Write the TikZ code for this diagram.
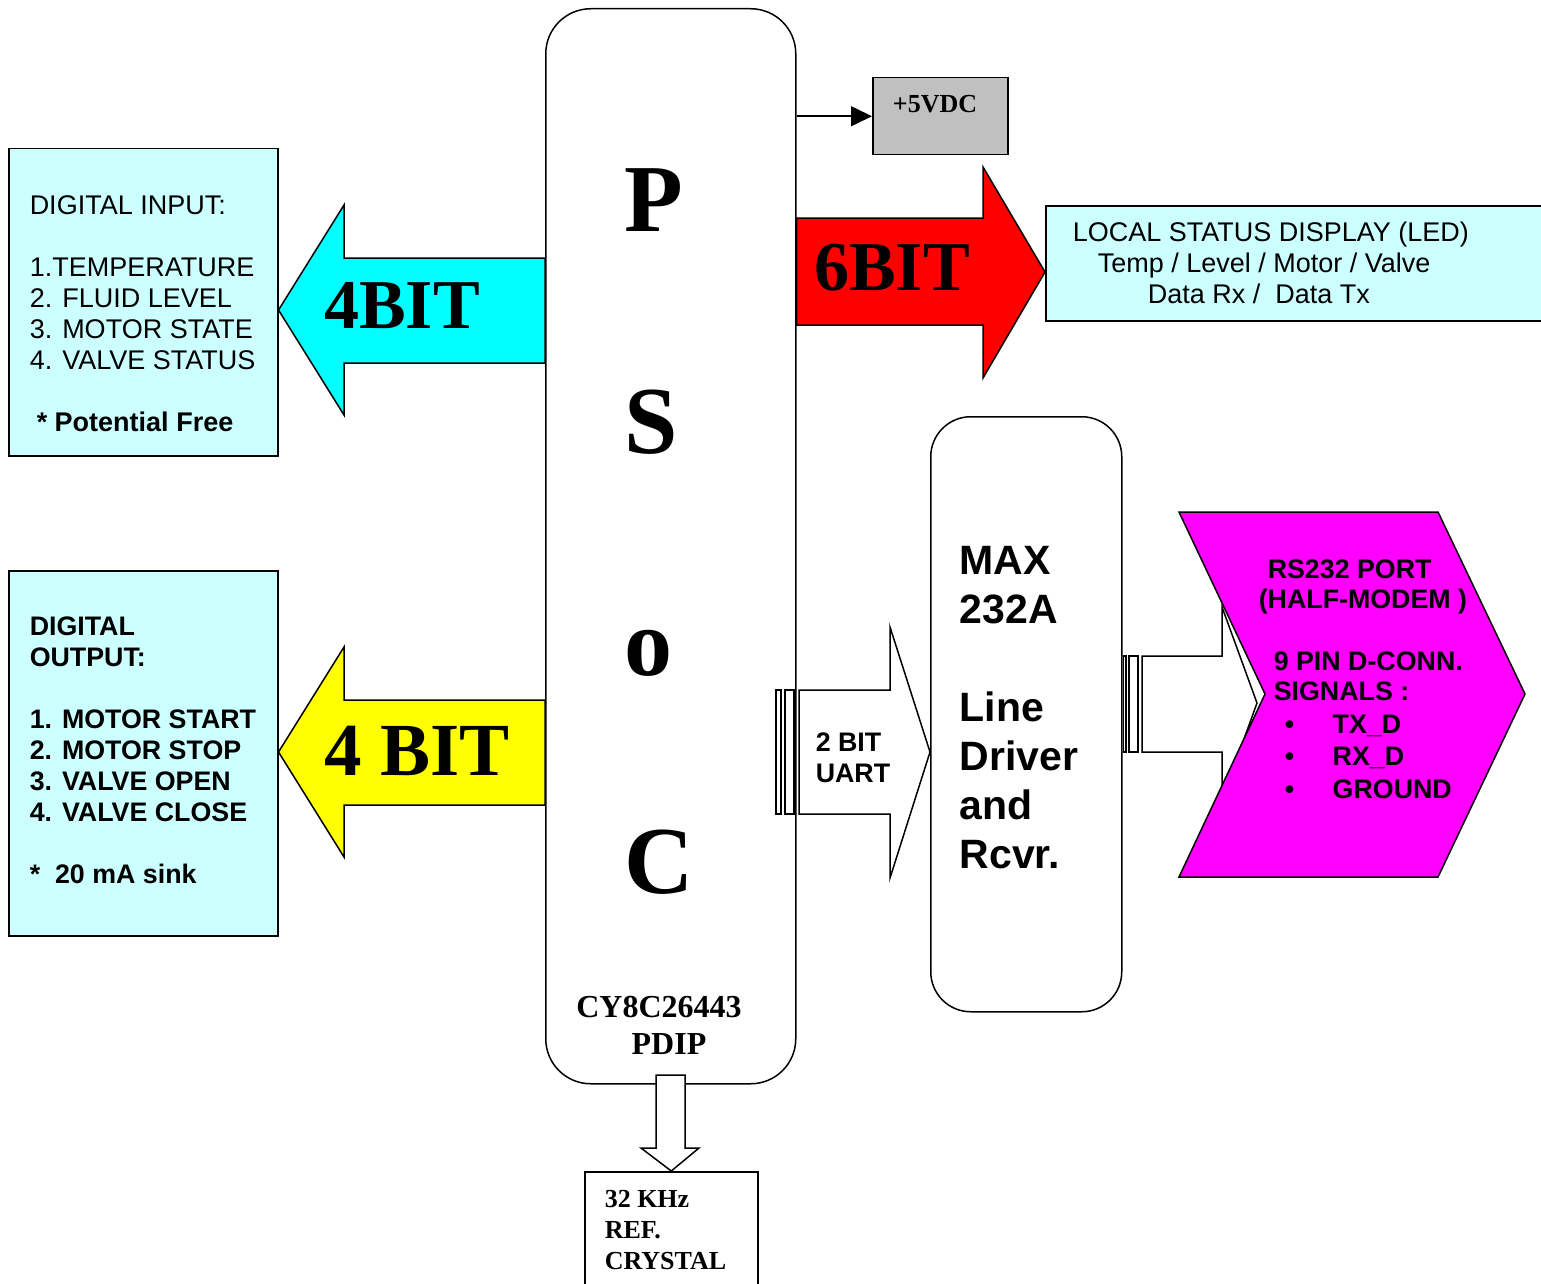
\documentclass[tikz,border=0pt]{standalone}
\usepackage{xcolor}
\usepackage{fontspec}
\setmainfont{Liberation Serif}
\setsansfont{Liberation Sans}
\usepackage{tikz}
\usetikzlibrary{positioning,arrows.meta}
\definecolor{paleblue}{HTML}{CCFFFF}
\definecolor{regulator}{HTML}{C0C0C0}
\definecolor{portpink}{HTML}{FF00FF}
\definecolor{incyan}{HTML}{00FFFF}
\definecolor{outyellow}{HTML}{FFFF00}
\definecolor{ledred}{HTML}{FF0000}
\tikzset{
	txt/.style = {
		font=\sffamily\fontsize{27}{31}\selectfont,
		inner sep=0, align=left, anchor=north west
	},
	txtbold/.style = {
		txt, font=\sffamily\bfseries\fontsize{26.8}{31}\selectfont
	},
	serifbold/.style = {
		font=\bfseries\fontsize{26}{31}\selectfont, inner sep=0
	}
}

\begin{document}
\begin{tikzpicture}[
		x=1pt, y=-1pt,
		line width=1.5pt,
		chip/.style = {draw, rounded corners=45pt, anchor=north west, inner sep=0},
		infobox/.style = {draw, fill=paleblue, anchor=north west, inner sep=0},
		fatarrow/.style = {draw, line join=miter},
		stripe/.style = {draw, fill=white, line width=1.2pt},
		bigbit/.style = {font=\bfseries\fontsize{70}{70}\selectfont, inner sep=0},
		chipletter/.style = {font=\bfseries\fontsize{96}{96}\selectfont, inner sep=0}
    ]
    \useasboundingbox (0,0) rectangle (1541,1284);
    %\draw[step=100pt,gray,very thin] (0,0) grid (1541,1284);

    % boxes
    \node[chip, minimum width=250pt, minimum height=1075pt] (psoc) at (545,8) {};
    \node[infobox, minimum width=269pt, minimum height=307pt] (inbox) at (8,148) {};
    \node[infobox, minimum width=269pt, minimum height=365pt] (outbox) at (8,570) {};
    \node[infobox, minimum width=505pt, minimum height=115pt] (stat) at (1045,205) {};
    \node[draw, fill=regulator, anchor=north west, inner sep=0,
          minimum width=135pt, minimum height=77pt] (vdc) at (872,77) {};
    \node[chip, rounded corners=40pt, minimum width=191pt, minimum height=595pt] (max) at (930,416) {};
    \node[draw, fill=white, anchor=north west, inner sep=0,
          minimum width=173pt, minimum height=130pt] (xtal) at (584,1171) {};
    \coordinate (rsnotch) at (1265,694);

    % chip lettering
    \node[chipletter] (lP) at (654,200) {P};
    \node[chipletter] (lS) at (651,422) {S};
    \node[chipletter] (lo) at (648,653) {o};
    \node[chipletter] (lC) at (659,862) {C};
    \node[serifbold, font=\bfseries\fontsize{32}{37}\selectfont, align=center, anchor=north]
        (part) at (659,995) {CY8C26443\\\hspace*{20pt}PDIP};

    % supply
    \draw[-{Triangle[length=21pt,width=20pt]}] (psoc.east |- vdc.west) -- (vdc.west);
    \node[serifbold] (vdctext) at (935,104) {+5VDC};

    % 4 bit in
    \draw[fatarrow, fill=incyan] (psoc.west |- 0,258) -- (344,258) -- (344,205)
        -- (inbox.east |- 0,310) -- (344,415) -- (344,363) -- (psoc.west |- 0,363) -- cycle;
    \node[bigbit] (inbits) at (402,306) {4BIT};

    % 4 bit out
    \draw[fatarrow, fill=outyellow] (psoc.west |- 0,700) -- (344,700) -- (344,647)
        -- (outbox.east |- 0,752) -- (344,857) -- (344,805) -- (psoc.west |- 0,805) -- cycle;
    \node[bigbit, font=\bfseries\fontsize{75}{75}\selectfont] (outbits) at (417,751) {4 BIT};

    % 6 bit display
    \draw[fatarrow, fill=ledred] (psoc.east |- 0,218) -- (983,218) -- (983,167)
        -- (stat.west |- 0,272) -- (983,378) -- (983,325) -- (psoc.east |- 0,325) -- cycle;
    \node[bigbit] (ledbits) at (892,268) {6BIT};

    % uart
    \draw[stripe] (776,690) rectangle (781,814);
    \draw[stripe] (785,690) rectangle (794,814);
    \draw[fatarrow, fill=white] (799,690) -- (890,690) -- (890,627)
        -- (max.west |- 0,752) -- (890,878) -- (890,814) -- (799,814) -- cycle;
    \node[txtbold] (uart) at (815,732) {2 BIT\\UART};

    % rs232
    \draw[stripe] (max.east |- 0,656) ++(1,0) rectangle (1126,752);
    \draw[stripe] (1129,656) rectangle (1138,752);
    \draw[fatarrow, fill=white] (1142,656) -- (1222,656) -- (1222,607)
        -- ([shift={(-8,9)}]rsnotch) -- (1222,800) -- (1222,752) -- (1142,752) -- cycle;
    \draw[fill=portpink] (1179,512) -- (1438,512) -- (1525,694) -- (1438,877)
        -- (1179,877) -- (rsnotch) -- cycle;

    % texts
    \node[txt] (intext) at (29,195) {DIGITAL INPUT:\\[31pt]1.TEMPERATURE\\2. FLUID LEVEL\\3. MOTOR STATE\\4. VALVE STATUS\\[31pt]\hspace*{7pt}\textbf{* Potential Free}};
    \node[txtbold] (outtext) at (29,615.7) {DIGITAL\\OUTPUT:\\[31pt]1. MOTOR START\\2. MOTOR STOP\\3. VALVE OPEN\\4. VALVE CLOSE\\[31pt]*\ \ 20 mA sink};
    \node[txt] (stattext) at (1072,220.7) {LOCAL STATUS DISPLAY (LED)\\\hspace*{25pt}Temp / Level / Motor / Valve\\\hspace*{75pt}Data Rx /\ \ Data Tx};
    \node[txtbold, font=\sffamily\bfseries\fontsize{41}{49}\selectfont] (maxtext) at (959,545.3) {MAX\\232A\\[49pt]Line\\Driver\\and\\Rcvr.};
    \node[txtbold, font=\sffamily\bfseries\fontsize{26.8}{30}\selectfont] (rstitle) at (1258,558.7) {\hspace*{9pt}RS232 PORT\\(HALF-MODEM )};
    \node[txtbold, font=\sffamily\bfseries\fontsize{26.8}{30}\selectfont] (rssig) at (1273,650.7) {9 PIN D-CONN.\\SIGNALS :};
    \node[txtbold, font=\sffamily\bfseries\fontsize{26.8}{32.5}\selectfont] (rslist) at (1284,714.2) {\makebox[48pt][l]{•}TX\_D\\\makebox[48pt][l]{•}RX\_D\\\makebox[48pt][l]{•}GROUND};

    % crystal
    \draw[fatarrow, fill=white] (656,1075) -- (656,1148) -- (641,1148) -- (xtal.north)
        -- (699,1148) -- (685,1148) -- (685,1075) -- cycle;
    \node[serifbold, align=left, anchor=north west] (xtaltext) at (604,1189.4) {32 KHz\\REF.\\CRYSTAL};

\end{tikzpicture}
\end{document}
